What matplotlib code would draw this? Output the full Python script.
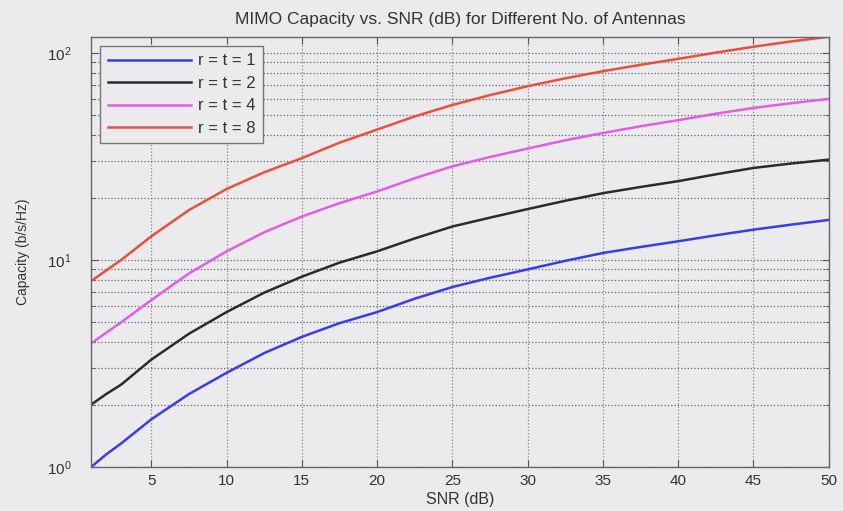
import matplotlib
matplotlib.use("Agg")
import matplotlib.pyplot as plt
from matplotlib.ticker import FixedLocator, LogLocator, NullFormatter

plt.rcParams["font.family"] = ["Liberation Sans", "DejaVu Sans"]
plt.rcParams["mathtext.fontset"] = "custom"
plt.rcParams["mathtext.rm"] = "Liberation Sans"

snr_db = [1, 2, 3, 5, 7.5, 10, 12.5, 15, 17.5, 20, 22.5, 25, 27.5, 30,
          32.5, 35, 37.5, 40, 42.5, 45, 47.5, 50]
cap_1 = [1.0, 1.15, 1.3, 1.7, 2.25, 2.85, 3.55, 4.25, 4.95, 5.6, 6.5, 7.4,
         8.2, 9.0, 9.9, 10.8, 11.55, 12.3, 13.15, 14.0, 14.8, 15.6]
cap_2 = [2.0, 2.25, 2.5, 3.3, 4.4, 5.6, 6.95, 8.3, 9.7, 11.0, 12.7, 14.5,
         16.0, 17.6, 19.3, 21.0, 22.5, 24.0, 25.9, 27.8, 29.2, 30.5]
cap_4 = [3.95, 4.45, 5.0, 6.4, 8.6, 11.0, 13.6, 16.2, 18.8, 21.4, 24.8, 28.3,
         31.4, 34.5, 37.8, 41.0, 44.2, 47.3, 50.8, 54.2, 57.1, 59.9]
cap_8 = [7.9, 8.9, 10.0, 13.0, 17.4, 22.0, 26.5, 31.0, 36.8, 42.6, 49.3, 56.0,
         62.5, 69.0, 75.3, 81.5, 87.5, 93.5, 100.2, 107.0, 113.5, 119.5]
labels = ["r = t = 1", "r = t = 2", "r = t = 4", "r = t = 8"]
x_ticks = [5, 10, 15, 20, 25, 30, 35, 40, 45, 50]

bg = "#ebebee"
fig = plt.figure(figsize=(8.43, 5.11), dpi=100, facecolor=bg)
ax = fig.add_axes([0.108, 0.086, 0.875, 0.842], facecolor=bg)

colors = ["#3b3bea", "#2b2b2b", "#e25ce6", "#e8503e"]
for ys, c, lab in zip([cap_1, cap_2, cap_4, cap_8], colors, labels):
    ax.plot(snr_db, ys, color=c, lw=1.8, label=lab)

ax.set_yscale("log")
ax.set_xlim(1, 50)
ax.set_ylim(1, 119.5)
ax.xaxis.set_major_locator(FixedLocator(x_ticks))
ax.yaxis.set_major_locator(LogLocator(base=10, numticks=10))
ax.yaxis.set_minor_locator(LogLocator(base=10, subs=range(2, 10), numticks=20))
ax.yaxis.set_minor_formatter(NullFormatter())

ax.grid(True, which="major", axis="x", color="#888888", ls=":", lw=0.9)
ax.grid(True, which="both", axis="y", color="#666666", ls=":", lw=0.9)
ax.tick_params(axis="both", which="both", direction="in", top=True, right=True,
               colors="#555555", labelcolor="#333333", labelsize=11)
ax.tick_params(which="major", length=5)
ax.tick_params(which="minor", length=3)
ax.tick_params(axis="y", pad=14)
ax.tick_params(axis="x", pad=5)
for s in ax.spines.values():
    s.set_color("#666666")
    s.set_linewidth(1.0)

ax.set_title("MIMO Capacity vs. SNR (dB) for Different No. of Antennas",
             fontsize=12.5, color="#333333", pad=9)
ax.set_xlabel("SNR (dB)", fontsize=11.5, color="#333333", labelpad=3)
ax.set_ylabel("Capacity (b/s/Hz)", fontsize=10, color="#333333", labelpad=12)

leg = ax.legend(loc="upper left", fontsize=12, frameon=True, fancybox=False,
                edgecolor="#777777", facecolor=bg, framealpha=1,
                handlelength=5.0, handletextpad=0.4, labelspacing=0.45,
                borderaxespad=0.55, borderpad=0.45)
for t in leg.get_texts():
    t.set_color("#333333")

fig.savefig("out.png", dpi=100, facecolor=bg)
